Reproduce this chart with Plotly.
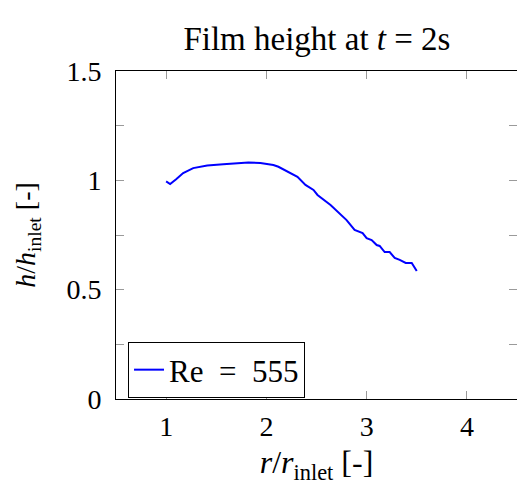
import plotly.graph_objects as go

# Radial film-height profile at t = 2 s
r_ratio = [1.00, 1.04, 1.10, 1.17, 1.27, 1.41, 1.57, 1.74, 1.82, 1.94, 2.07, 2.12,
           2.21, 2.31, 2.39, 2.47, 2.51, 2.64, 2.80, 2.88, 2.96, 3.00, 3.05, 3.10,
           3.13, 3.18, 3.23, 3.28, 3.33, 3.39, 3.45, 3.50]
h_ratio = [0.995, 0.983, 1.005, 1.033, 1.056, 1.068, 1.074, 1.080, 1.082, 1.079,
           1.070, 1.062, 1.042, 1.016, 0.979, 0.956, 0.933, 0.887, 0.818, 0.773,
           0.759, 0.736, 0.727, 0.704, 0.700, 0.672, 0.672, 0.645, 0.636, 0.622,
           0.622, 0.585]
series_name = "Re\u00a0\u00a0=\u00a0\u00a0555"

y_tick_vals = [0, 0.25, 0.5, 0.75, 1.0, 1.25, 1.5]
y_tick_text = ["0", "", "0.5", "", "1", "", "1.5"]
x_tick_vals = [1, 2, 3, 4]
x_tick_text = ["1", "2", "3", "4"]

FONT = "Liberation Serif"

fig = go.Figure()
fig.add_trace(go.Scatter(
    x=r_ratio, y=h_ratio, mode="lines", name=series_name,
    line=dict(color="#0000ff", width=2),
))

axis_common = dict(
    showline=True, linecolor="black", linewidth=1, mirror="ticks",
    ticks="inside", ticklen=8, tickcolor="#9a9a9a", tickwidth=1,
    showgrid=False, zeroline=False,
    tickfont=dict(family=FONT, size=28, color="black"),
)

fig.update_layout(
    width=517, height=488,
    margin=dict(l=116, r=0, t=71, b=89),
    paper_bgcolor="white", plot_bgcolor="white",
    font=dict(family=FONT, size=28, color="black"),
    title=dict(text="Film height at <i>t</i> = 2s", x=0.613, xanchor="center",
               y=0.922, yanchor="middle", font=dict(family=FONT, size=33)),
    xaxis=dict(range=[0.5, 4.5], tickvals=x_tick_vals, ticktext=x_tick_text,
               title=dict(text="<i>r</i>/<i>r</i><sub>inlet</sub> [-]", standoff=10,
                          font=dict(family=FONT, size=32)),
               ticklabelstandoff=2, **axis_common),
    yaxis=dict(range=[0, 1.5], tickvals=y_tick_vals, ticktext=y_tick_text,
               title=dict(text="<i>h</i>/<i>h</i><sub>inlet</sub> [-]", standoff=22,
                          font=dict(family=FONT, size=28)),
               ticklabelstandoff=8, **axis_common),
    showlegend=True,
    legend=dict(x=0.03, y=0.003, xanchor="left", yanchor="bottom",
                bordercolor="black", borderwidth=1, bgcolor="white",
                font=dict(family=FONT, size=31),
                itemwidth=30, tracegroupgap=0),
)

fig.write_html("out.html")
